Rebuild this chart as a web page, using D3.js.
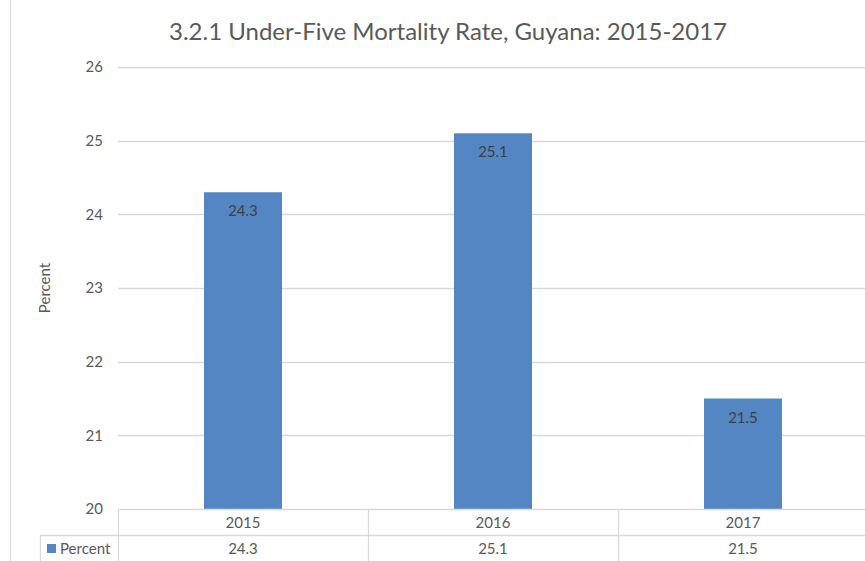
<!DOCTYPE html>
<html>
<head>
<meta charset="utf-8">
<script src="https://d3js.org/d3.v7.min.js"></script>
<style>
  body { margin: 0; background: #fff; }
  text { font-family: Lato, "Open Sans", sans-serif; }
</style>
</head>
<body>
<script>
var title = '3.2.1 Under-Five Mortality Rate, Guyana: 2015-2017';
var years = ['2015', '2016', '2017'];
var percent = [24.3, 25.1, 21.5];
var yTicks = [20, 21, 22, 23, 24, 25, 26];
var seriesName = 'Percent';

var width = 865;
var height = 561;
var plotLeft = 118, plotRight = 868, plotTop = 67, plotBottom = 509;
var rowH = 26;

var svg = d3.select('body')
    .append('svg')
    .attr('width', width)
    .attr('height', height);

// chart area border (left edge only visible)
svg.append('line')
    .attr('x1', 10.5).attr('x2', 10.5)
    .attr('y1', 0).attr('y2', height)
    .attr('stroke', '#d9d9d9');

var x = d3.scaleBand()
    .domain(years)
    .range([plotLeft, plotRight])
    .paddingInner(0.688)
    .paddingOuter(0.344);

var cols = d3.scaleBand()
    .domain(years)
    .range([plotLeft, plotRight]);

var y = d3.scaleLinear()
    .domain([20, 26])
    .range([plotBottom, plotTop]);

// gridlines
svg.append('g')
    .selectAll('line')
    .data(yTicks.slice(1))
    .enter()
    .append('line')
    .attr('x1', plotLeft).attr('x2', width)
    .attr('y1', function(d) { return Math.round(y(d)) + 0.5; })
    .attr('y2', function(d) { return Math.round(y(d)) + 0.5; })
    .attr('stroke', '#d9d9d9')
    .attr('stroke-width', 1.3);

// y tick labels
svg.append('g')
    .selectAll('text')
    .data(yTicks)
    .enter()
    .append('text')
    .attr('x', 103)
    .attr('y', function(d) { return y(d); })
    .attr('dy', '0.35em')
    .attr('text-anchor', 'end')
    .attr('font-size', 15)
    .attr('fill', '#595959')
    .text(function(d) { return d; });

// bars
svg.append('g')
    .selectAll('rect')
    .data(percent)
    .enter()
    .append('rect')
    .attr('x', function(d, i) { return x(years[i]); })
    .attr('width', x.bandwidth())
    .attr('y', function(d) { return y(d); })
    .attr('height', function(d) { return y(20) - y(d); })
    .attr('fill', '#5586c4');

// bar labels
svg.append('g')
    .selectAll('text')
    .data(percent)
    .enter()
    .append('text')
    .attr('x', function(d, i) { return x(years[i]) + x.bandwidth() / 2; })
    .attr('y', function(d) { return y(d) + 24; })
    .attr('text-anchor', 'middle')
    .attr('font-size', 15)
    .attr('fill', '#404040')
    .text(function(d) { return d.toFixed(1); });

// data table
var tbl = svg.append('g').attr('stroke', '#d9d9d9').attr('stroke-width', 1.3);
tbl.append('line').attr('x1', plotLeft).attr('x2', width).attr('y1', plotBottom + 0.5).attr('y2', plotBottom + 0.5);
tbl.append('line').attr('x1', 40).attr('x2', width).attr('y1', plotBottom + rowH + 0.5).attr('y2', plotBottom + rowH + 0.5);
tbl.append('line').attr('x1', 40.5).attr('x2', 40.5).attr('y1', plotBottom + rowH).attr('y2', height);
tbl.selectAll('.sep')
    .data(years)
    .enter()
    .append('line')
    .attr('x1', function(d) { return cols(d) + 0.5; })
    .attr('x2', function(d) { return cols(d) + 0.5; })
    .attr('y1', plotBottom).attr('y2', height);

svg.append('g')
    .selectAll('text')
    .data(years)
    .enter()
    .append('text')
    .attr('x', function(d) { return cols(d) + cols.bandwidth() / 2; })
    .attr('y', plotBottom + 19)
    .attr('text-anchor', 'middle')
    .attr('font-size', 15)
    .attr('fill', '#595959')
    .text(function(d) { return d; });

svg.append('g')
    .selectAll('text')
    .data(percent)
    .enter()
    .append('text')
    .attr('x', function(d, i) { return cols(years[i]) + cols.bandwidth() / 2; })
    .attr('y', plotBottom + rowH + 19)
    .attr('text-anchor', 'middle')
    .attr('font-size', 15)
    .attr('fill', '#595959')
    .text(function(d) { return d.toFixed(1); });

// legend key in table
svg.append('rect')
    .attr('x', 47).attr('y', plotBottom + rowH + 9)
    .attr('width', 9).attr('height', 9)
    .attr('fill', '#5586c4');
svg.append('text')
    .attr('x', 60).attr('y', plotBottom + rowH + 19)
    .attr('font-size', 15)
    .attr('fill', '#595959')
    .text(seriesName);

// axis title
svg.append('text')
    .attr('transform', 'translate(50,' + ((plotTop + plotBottom) / 2) + ') rotate(-90)')
    .attr('text-anchor', 'middle')
    .attr('font-size', 15)
    .attr('fill', '#595959')
    .text('Percent');

// title
svg.append('text')
    .attr('x', 448)
    .attr('y', 40)
    .attr('text-anchor', 'middle')
    .attr('font-size', 24)
    .attr('fill', '#595959')
    .text(title);
</script>
</body>
</html>
